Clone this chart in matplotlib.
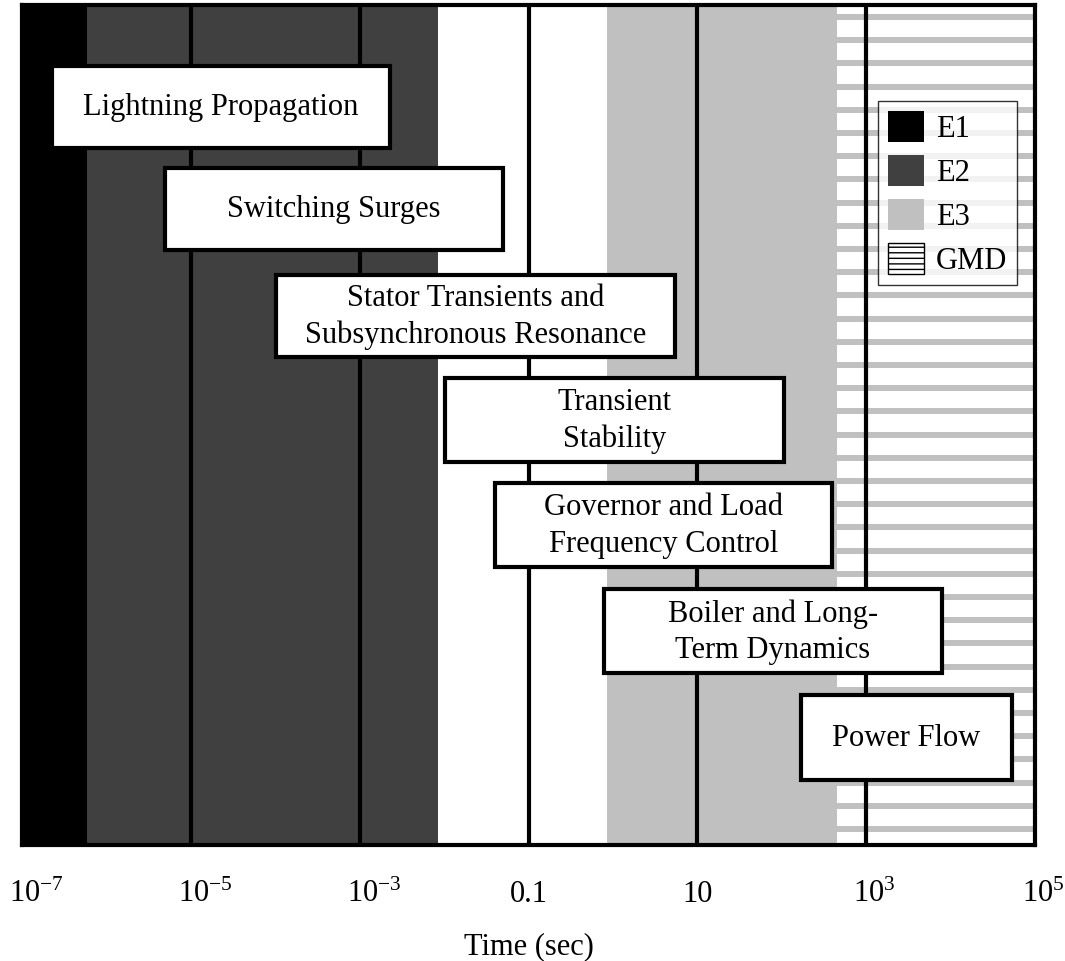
import numpy as np
import matplotlib
matplotlib.use("Agg")
import matplotlib.pyplot as plt
from matplotlib.patches import Rectangle, Patch
import matplotlib.transforms as mtransforms

plt.rcParams['font.family'] = ['Liberation Serif', 'DejaVu Serif']
plt.rcParams['mathtext.fontset'] = 'custom'
plt.rcParams['mathtext.rm'] = 'Liberation Serif'
plt.rcParams['mathtext.it'] = 'Liberation Serif:italic'
plt.rcParams['hatch.color'] = "#808080"

# ---- data ----
band_names = ["E1", "E2", "", "E3", "GMD"]
band_lo_exp = [-7.0, -6.23, -2.07, -0.07, 2.66]
band_hi_exp = [-6.23, -2.07, -0.07, 2.66, 5.0]
band_colors = ["#000000", "#404040", "#ffffff", "#c0c0c0", "gmd"]

vline_exp = [-5, -3, -1, 1, 3]

box_labels = ["Lightning Propagation", "Switching Surges",
              "Stator Transients and\nSubsynchronous Resonance",
              "Transient\nStability", "Governor and Load\nFrequency Control",
              "Boiler and Long-\nTerm Dynamics", "Power Flow"]
box_lo_exp = [-6.645, -5.306, -3.991, -1.989, -1.397, -0.106, 2.228]
box_hi_exp = [-2.641, -1.302, 0.735, 2.026, 2.595, 3.898, 4.727]
box_top = [66, 168, 275, 378, 483, 589, 695]
box_bottom = [148, 250, 357, 462, 567, 673, 780]

tick_exp = [-7, -5, -3, -1, 1, 3, 5]
tick_labels = [r"10$^{-7}$", r"10$^{-5}$", r"10$^{-3}$", "0.1", "10", r"10$^{3}$", r"10$^{5}$"]

YTOP, YBOT = 5, 845

fig = plt.figure(figsize=(10.65, 9.61), dpi=100)
ax = fig.add_axes([22/1065, (961-845)/961, (1035-22)/1065, (845-5)/961])
ax.set_xscale('log')
ax.set_xlim(10.0**-7, 10.0**5)
ax.set_ylim(YBOT, YTOP)

for lo, hi, c in zip(band_lo_exp, band_hi_exp, band_colors):
    if c == "gmd":
        ax.axvspan(10**lo, 10**hi, color="white", lw=0, zorder=0)
        for yc in np.arange(17, YBOT, 23.2):
            ax.add_patch(Rectangle((10**lo, yc - 3), 10**hi - 10**lo, 6,
                                   facecolor="#c0c0c0", lw=0, zorder=0.5))
    else:
        ax.axvspan(10**lo, 10**hi, color=c, lw=0, zorder=0)

for e in vline_exp:
    ax.axvline(10.0**e, color="black", lw=3, zorder=1)

for lab, lo, hi, t, b in zip(box_labels, box_lo_exp, box_hi_exp, box_top, box_bottom):
    ax.add_patch(Rectangle((10**lo, t), 10**hi - 10**lo, b - t,
                           facecolor="white", edgecolor="black", lw=3, zorder=3))
    xc = 10 ** ((lo + hi) / 2)
    ax.text(xc, (t + b) / 2 + 1, lab, ha="center", va="center", fontsize=22,
            linespacing=1.33, zorder=4)

ax.set_yticks([])
ax.set_xticks([10.0**e for e in tick_exp])
ax.set_xticklabels(tick_labels, fontsize=22)
ax.minorticks_off()
ax.tick_params(axis='x', length=0, pad=25)
for lbl, txt in zip(ax.get_xticklabels(), tick_labels):
    if "$" in txt:
        lbl.set_horizontalalignment('left')
        lbl.set_transform(lbl.get_transform() +
                          mtransforms.ScaledTranslation(-13/100, 0, fig.dpi_scale_trans))
for s in ax.spines.values():
    s.set_linewidth(3)
    s.set_zorder(5)

ax.set_xlabel("Time (sec)", fontsize=22, labelpad=17)

# legend
handles = [Patch(facecolor="#000000", edgecolor="none", label="E1"),
           Patch(facecolor="#404040", edgecolor="none", label="E2"),
           Patch(facecolor="#c0c0c0", edgecolor="none", label="E3"),
           Patch(facecolor="white", edgecolor="black", hatch="---", lw=1, label="GMD")]
leg = ax.legend(handles=handles, loc="upper left",
                bbox_to_anchor=((878-22)/1013, 1 - (101-5)/840),
                fontsize=22, frameon=True, fancybox=False, edgecolor="black",
                handlelength=1.18, handleheight=1.2, handletextpad=0.4,
                labelspacing=0.36, borderpad=0.32, borderaxespad=0)
leg.get_frame().set_linewidth(1)
leg.set_zorder(6)

fig.savefig("out.png", dpi=100)
